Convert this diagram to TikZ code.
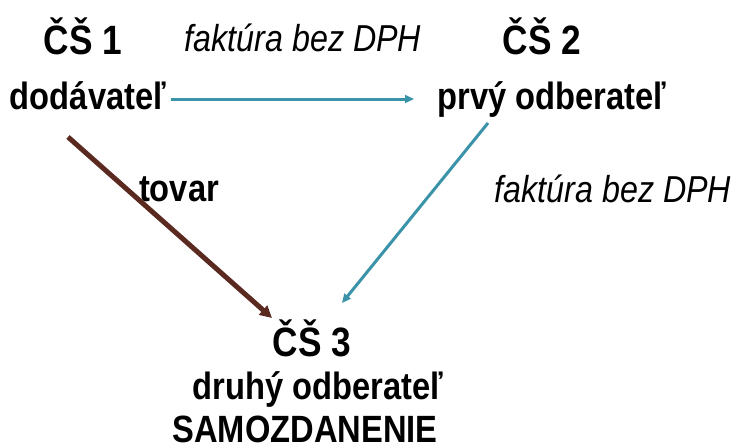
\documentclass[tikz,border=0pt]{standalone}
\usepackage{fontspec}
\setmainfont[FakeStretch=0.86]{Liberation Sans}
\usetikzlibrary{arrows.meta}
\definecolor{teal1}{HTML}{3A93A8}
\definecolor{brown1}{HTML}{5A2A20}
\tikzset{
  big/.style={font=\fontsize{41}{43}\selectfont\bfseries, anchor=base, inner sep=0pt},
  lab/.style={font=\fontsize{38}{40}\selectfont\bfseries, anchor=base, inner sep=0pt},
  ital/.style={font=\fontsize{37.5}{39}\selectfont\itshape, anchor=base, inner sep=0pt},
  bluearrow/.style={draw=teal1, line width=3pt, -{Triangle[length=9pt,width=8pt]}},
  brownarrow/.style={draw=brown1, line width=5pt, -{Triangle[length=12pt,width=12pt]}},
}
\begin{document}
\begin{tikzpicture}[x=1pt,y=-1pt]
\useasboundingbox (0,0) rectangle (736,444);
\node[big] (cs1) at (83,55) {ČŠ 1};
\node[ital] (f1) at (303,52) {faktúra bez DPH};
\node[big] (cs2) at (542,55) {ČŠ 2};
\node[lab] (dod) at (88,109) {dodávateľ};
\node[lab] (prv) at (552,109) {prvý odberateľ};
\node[lab] (tov) at (179,201) {tovar};
\node[ital] (f2) at (613,202) {faktúra bez DPH};
\node[big] (cs3) at (312,356) {ČŠ 3};
\node[lab] (dru) at (318,399) {druhý odberateľ};
\node[lab] (sam) at (305,442) {SAMOZDANENIE};
\coordinate (h1) at (171,99);
\coordinate (h2) at (414,99);
\coordinate (b1) at (68,137);
\coordinate (b2) at (272,318);
\coordinate (d1) at (488,123);
\coordinate (d2) at (342,303);
\draw[bluearrow] (h1) -- (h2);
\draw[brownarrow] (b1) -- (b2);
\draw[bluearrow] (d1) -- (d2);
\end{tikzpicture}
\end{document}
